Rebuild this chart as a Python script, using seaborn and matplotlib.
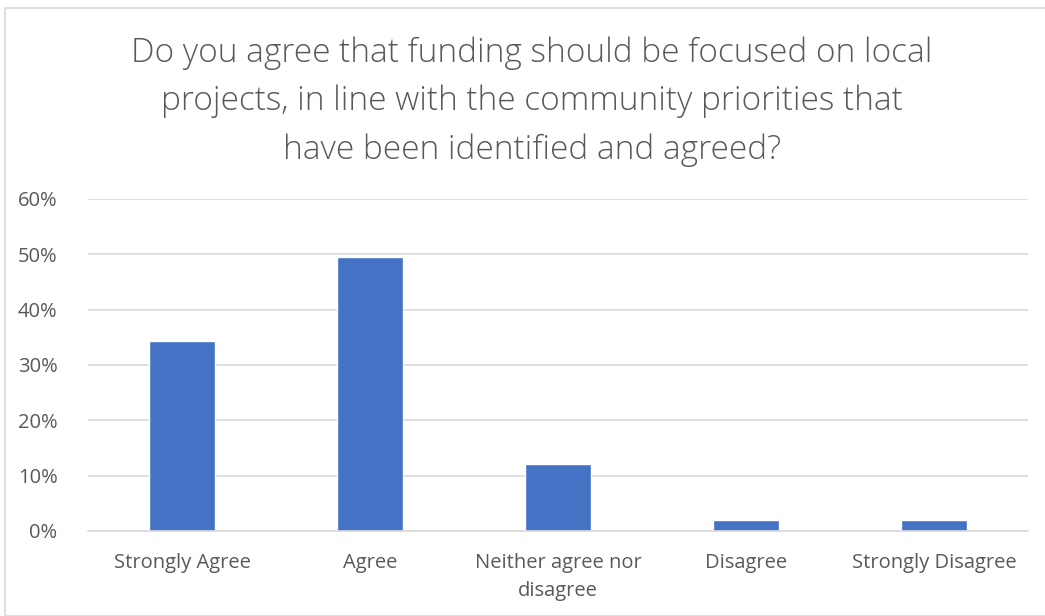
import matplotlib
matplotlib.use("Agg")
import matplotlib.pyplot as plt
import seaborn as sns
import pandas as pd
from matplotlib.patches import Rectangle
from matplotlib.ticker import FuncFormatter, MultipleLocator

categories = ["Strongly Agree", "Agree", "Neither agree nor\ndisagree", "Disagree", "Strongly Disagree"]
values = [0.343, 0.495, 0.121, 0.02, 0.02]
title = "Do you agree that funding should be focused on local\nprojects, in line with the community priorities that\nhave been identified and agreed?"

sns.set_style("white")
plt.rcParams['font.family'] = ['Open Sans', 'DejaVu Sans']

df = pd.DataFrame({"cat": categories, "val": values})

fig = plt.figure(figsize=(10.45, 6.16), dpi=100)
ax = fig.add_axes([0.0842, 0.138, 0.8995, 0.539])
sns.barplot(data=df, x="cat", y="val", color="#4472C4", width=0.35, ax=ax, saturation=1)

ax.set_ylim(0, 0.6)
ax.yaxis.set_major_locator(MultipleLocator(0.1))
ax.yaxis.set_major_formatter(FuncFormatter(lambda v, p: f"{v*100:.0f}%"))
ax.grid(axis="y", color="#D9D9D9", linewidth=1.2)
ax.set_axisbelow(True)
for s in ["top", "right", "left"]:
    ax.spines[s].set_visible(False)
ax.spines["bottom"].set_color("#D9D9D9")
ax.spines["bottom"].set_linewidth(1.2)
ax.set_xlabel("")
ax.set_ylabel("")
ax.tick_params(axis="both", length=0, labelsize=14.5, colors="#595959")
ax.tick_params(axis="x", pad=16)
ax.tick_params(axis="y", pad=22)
for lbl in ax.get_xticklabels():
    lbl.set_linespacing(1.5)

fig.text(0.509, 0.835, title, ha="center", va="center", fontsize=24, color="#595959",
         linespacing=1.6, fontweight="light")

fig.patches.append(Rectangle((5/1045, 0), 1.2, 1 - 8/616, transform=fig.transFigure,
                             fill=False, edgecolor="#D9D9D9", linewidth=1.2))

fig.savefig("out.png", dpi=100)
